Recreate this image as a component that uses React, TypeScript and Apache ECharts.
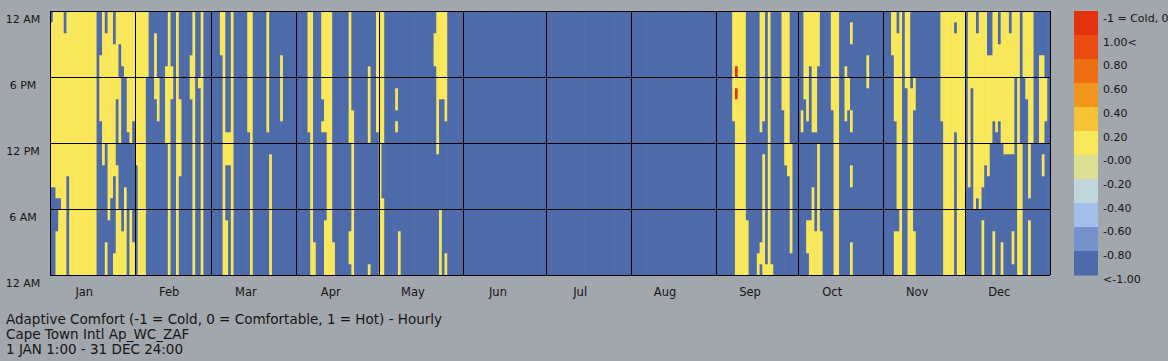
import React, { useEffect, useRef } from "react";
import * as echarts from "echarts";

const monthNames = ["Jan", "Feb", "Mar", "Apr", "May", "Jun", "Jul", "Aug", "Sep", "Oct", "Nov", "Dec"];
const monthDays = [31, 28, 31, 30, 31, 30, 31, 31, 30, 31, 30, 31];
const hourTicks = [0, 6, 12, 18, 24];
const hourLabels = ["12 AM", "6 AM", "12 PM", "6 PM", "12 AM"];

// Comfortable (0) hour runs [from-to) per day of month; unlisted days are cold (-1) all day.
const janComfort: [number, string][] = [
  [1, "8-23"], [2, "8-24"], [3, "0-4,7-24"], [4, "0-6,7-24"], [5, "0-24"], [6, "0-22"], [7, "9-24"],
  [8, "0-24"], [9, "0-24"], [10, "0-24"], [11, "0-24"], [12, "0-24"], [13, "0-24"], [14, "0-24"],
  [15, "0-24"], [16, "0-24"], [17, "0-24"], [19, "14-20"], [20, "10-24"], [21, "0-3,12-22"],
  [22, "5-24"], [23, "7-24"], [24, "0-2,9-21"], [25, "0-10,16-24"], [26, "0-6,12-18,21-24"],
  [27, "0-4,19-24"], [28, "0-8,18-24"], [29, "13-24"], [30, "0-6,12-24"], [31, "0-3,14-24"],
];
const febComfort: [number, string][] = [
  [1, "10-24"], [2, "0-24"], [3, "0-24"], [4, "0-24"], [5, "18-24"], [8, "16-22"], [9, "14-18"],
  [12, "12-19"], [13, "0-24"], [14, "16-19"], [16, "0-24"], [17, "9-16"], [21, "16-20"],
  [22, "0-24"], [24, "17-18"], [25, "0-24"],
];
const marComfort: [number, string][] = [
  [4, "20-24"], [5, "0-24"], [6, "0-5,10-13"], [7, "10-13"], [8, "0-24"], [14, "13-24"],
  [15, "0-24"], [21, "13-24"], [22, "0-11"], [26, "14-20"],
];
const aprComfort: [number, string][] = [
  [5, "13-24"], [6, "0-24"], [7, "0-3"], [10, "13-14,16-24"], [11, "0-5,13-24"], [12, "0-24"],
  [13, "0-24"], [14, "0-3"], [20, "1-4,12-24"], [21, "0-15"], [27, "0-1,12-19"], [30, "13-24"],
];
const mayComfort: [number, string][] = [
  [1, "0-24"], [2, "0-7,12-24"], [7, "13-14,15-17"], [8, "0-4"], [21, "19-22"], [22, "11-24"],
  [23, "0-6,16-24"], [24, "16-24"], [25, "0-2,14-24"],
];
const junComfort: [number, string][] = [];
const julComfort: [number, string][] = [];
const augComfort: [number, string][] = [];
const sepComfort: [number, string][] = [
  [7, "14-24"], [8, "0-24"], [9, "0-24"], [10, "0-24"], [11, "0-24"], [12, "0-5"], [16, "0-2"],
  [17, "1-3,13-24"], [18, "0-11,14-24"], [19, "0-1"], [20, "0-24"], [21, "0-1"], [25, "15-24"],
  [26, "10-24"], [27, "9-24"], [28, "2-12"],
];
const octComfort: [number, string][] = [
  [2, "13-15"], [3, "16-24"], [4, "2-5,14-24"], [5, "0-5,19-24"], [6, "0-8,13-24"],
  [7, "0-4,13-24"], [8, "0-12,19-24"], [9, "0-4"], [13, "15-24"], [14, "0-24"], [15, "0-24"],
  [18, "14-19"], [19, "15-18"], [20, "0-3,8-10,13-15,21-23"], [26, "17-20"],
];
const novComfort: [number, string][] = [
  [4, "20-24"], [5, "0-4,14-24"], [6, "0-4,6-22"], [7, "0-24"], [9, "17-24"], [10, "0-24"],
  [11, "0-17"], [12, "0-4,15-18"], [22, "14-24"], [23, "0-24"], [24, "0-24"], [25, "0-24"],
  [26, "0-24"], [27, "13-22,23-24"], [28, "0-24"], [29, "0-24"], [30, "0-24"],
];
const decComfort: [number, string][] = [
  [2, "8-24"], [3, "17-24"], [4, "6-24"], [5, "7-22"], [6, "6-24"], [7, "0-5,8-24"], [8, "10-24"],
  [9, "9-20"], [10, "12-20"], [11, "0-4,14-24"], [12, "13-24"], [13, "14-21"], [14, "0-3,12-24"],
  [15, "11-24"], [16, "11-24"], [17, "11-22"], [18, "1-4,11-24"], [19, "18-24"], [20, "0-24"],
  [21, "0-12"], [22, "18-24"], [23, "16-24"], [24, "0-5,7-24"], [25, "12-24"], [28, "12-20"],
  [29, "9-11,12-20"], [30, "14-18"],
];
// Hot (1) cells: [month index, day of month, hour]
const hotCells: [number, number, number][] = [[8, 8, 16], [8, 8, 18]];

const legendColors = [
  "#E5320E", "#EA4B10", "#EE6E13", "#F1951C", "#F6C338", "#FAE85B",
  "#DCDF94", "#C0D5DC", "#A4BFEC", "#7592CC", "#4D6BAA",
];
const legendLabels = [
  "-1 = Cold, 0 = Comfortable, 1 = Hot", "1.00<", "0.80", "0.60", "0.40", "0.20",
  "-0.00", "-0.20", "-0.40", "-0.60", "-0.80", "<-1.00",
];
const valueColor: Record<string, string> = { "-1": "#4D6BAA", "0": "#FAE85B", "1": "#E5320E" };

const titleLines = [
  "Adaptive Comfort (-1 = Cold, 0 = Comfortable, 1 = Hot) - Hourly",
  "Cape Town Intl Ap_WC_ZAF",
  "1 JAN 1:00 - 31 DEC 24:00",
];

const FONT = "DejaVu Sans";
const TEXT = "#151515";
const BG = "#A2A6AD";

function buildRuns() {
  const months = [janComfort, febComfort, marComfort, aprComfort, mayComfort, junComfort,
    julComfort, augComfort, sepComfort, octComfort, novComfort, decComfort];
  const starts: number[] = [];
  let acc = 0;
  monthDays.forEach((n) => { starts.push(acc); acc += n; });
  const total = acc;
  const grid: number[][] = [];
  for (let d = 0; d < total; d++) grid.push(new Array(24).fill(-1));
  months.forEach((list, m) => {
    list.forEach(([dom, spec]) => {
      const d = starts[m] + dom - 1;
      spec.split(",").forEach((part) => {
        const [a, b] = part.split("-").map(Number);
        for (let h = a; h < b; h++) grid[d][h] = 0;
      });
    });
  });
  hotCells.forEach(([m, dom, h]) => { grid[starts[m] + dom - 1][h] = 1; });
  const runs: number[][] = [];
  for (let d = 0; d < total; d++) {
    let s = 0;
    for (let h = 1; h <= 24; h++) {
      if (h === 24 || grid[d][h] !== grid[d][s]) {
        runs.push([d, s, h, grid[d][s]]);
        s = h;
      }
    }
  }
  return { runs, starts, total };
}

export default function App() {
  const ref = useRef<HTMLDivElement>(null);
  useEffect(() => {
    if (!ref.current) return;
    const chart = echarts.init(ref.current, undefined, { renderer: "svg" });
    const { runs, starts, total } = buildRuns();
    const dayCats: string[] = [];
    for (let d = 0; d < total; d++) {
      const m = starts.indexOf(d - 12);
      dayCats.push(m >= 0 ? monthNames[m] : "");
    }
    const boundaries = [...starts, total];
    const gLeft = 50, gTop = 11, gW = 1000, gH = 264;
    const graphics: any[] = [];
    legendColors.forEach((c, i) => {
      graphics.push({
        type: "rect", silent: true,
        shape: { x: 1074, y: gTop + i * 24, width: 24, height: 24.5 },
        style: { fill: c },
      });
    });
    legendLabels.forEach((t, i) => {
      graphics.push({
        type: "text", silent: true, x: 1103, y: 18.5 + i * 23.7,
        style: { text: t, fill: TEXT, font: `11px "${FONT}"`, textVerticalAlign: "middle", textAlign: "left" },
      });
    });
    titleLines.forEach((t, i) => {
      graphics.push({
        type: "text", silent: true, x: 6, y: 318.5 + i * 15,
        style: { text: t, fill: TEXT, font: `13.5px "${FONT}"`, textVerticalAlign: "middle", textAlign: "left" },
      });
    });

    chart.setOption({
      animation: false,
      backgroundColor: BG,
      textStyle: { fontFamily: FONT },
      grid: { left: gLeft, top: gTop, width: gW, height: gH, containLabel: false },
      xAxis: [
        {
          type: "category", data: dayCats, boundaryGap: true, position: "bottom",
          axisLine: { show: false }, axisTick: { show: false }, splitLine: { show: false },
          axisLabel: { interval: 0, color: TEXT, fontSize: 11.5, fontFamily: FONT, margin: 11 },
        },
        {
          type: "value", min: 0, max: total, show: true, position: "top",
          axisLine: { show: false }, axisTick: { show: false }, axisLabel: { show: false },
          splitLine: { show: false },
        },
      ],
      yAxis: [
        {
          type: "value", min: 0, max: 24, interval: 6, position: "left", z: 10,
          axisLine: { show: false }, axisTick: { show: false },
          splitLine: { show: true, lineStyle: { color: "#000", width: 1 } },
          axisLabel: {
            color: TEXT, fontSize: 11, fontFamily: FONT, margin: 27, align: "center",
            verticalAlign: "top", lineHeight: 16,
            formatter: (v: number) => hourLabels[hourTicks.indexOf(v)] ?? "",
          },
        },
      ],
      series: [
        {
          type: "custom", xAxisIndex: 1, yAxisIndex: 0, clip: true,
          data: runs,
          renderItem: (_p: any, api: any) => {
            const d = api.value(0), s = api.value(1), e = api.value(2), v = api.value(3);
            const p0 = api.coord([d, e]);
            const p1 = api.coord([d + 1, s]);
            return {
              type: "rect",
              shape: { x: p0[0], y: p0[1], width: p1[0] - p0[0] + 0.45, height: p1[1] - p0[1] + 0.3 },
              style: { fill: valueColor[String(v)] },
            };
          },
        },
        {
          type: "line", xAxisIndex: 1, yAxisIndex: 0, data: [], z: 10, silent: true,
          markLine: {
            silent: true, symbol: ["none", "none"], label: { show: false },
            lineStyle: { color: "#000", width: 1, type: "solid" },
            data: boundaries.map((b) => ({ xAxis: b })),
          },
        },
      ],
      graphic: graphics,
    });
    return () => chart.dispose();
  }, []);
  return <div ref={ref} style={{ position: "absolute", left: 0, top: 0, width: 1168, height: 361 }} />;
}
